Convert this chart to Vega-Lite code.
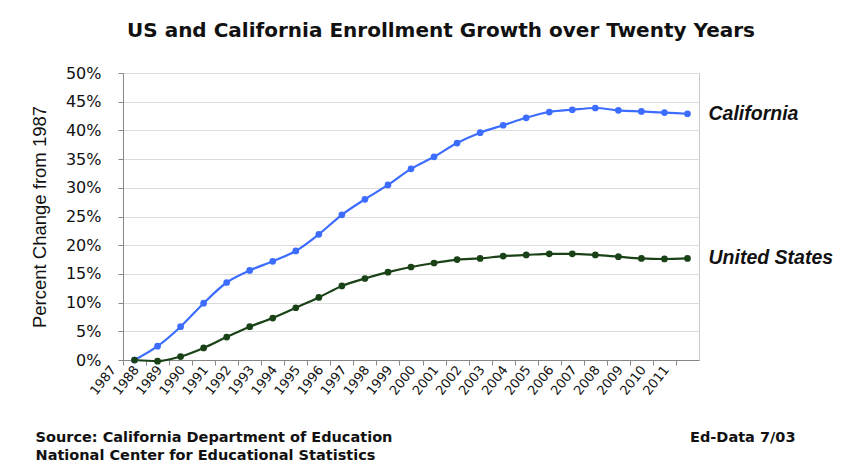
{
  "$schema": "https://vega.github.io/schema/vega-lite/v6.json",
  "width": 576,
  "height": 287,
  "autosize": {"type": "none"},
  "padding": {"left": 123, "top": 73, "right": 143, "bottom": 101},
  "background": "white",
  "title": {
    "text": "US and California Enrollment Growth over Twenty Years",
    "font": "DejaVu Sans",
    "fontSize": 20,
    "fontWeight": "bold",
    "color": "#111111",
    "anchor": "middle",
    "dx": 30,
    "offset": 24
  },
  "config": {
    "font": "DejaVu Sans",
    "view": {"stroke": "#c8c8c8", "strokeWidth": 1}
  },
  "data": {
    "values": [
      {"year": "1987", "series": "California", "value": 0.0},
      {"year": "1988", "series": "California", "value": 0.024},
      {"year": "1989", "series": "California", "value": 0.058},
      {"year": "1990", "series": "California", "value": 0.099},
      {"year": "1991", "series": "California", "value": 0.135},
      {"year": "1992", "series": "California", "value": 0.156},
      {"year": "1993", "series": "California", "value": 0.172},
      {"year": "1994", "series": "California", "value": 0.190},
      {"year": "1995", "series": "California", "value": 0.219},
      {"year": "1996", "series": "California", "value": 0.253},
      {"year": "1997", "series": "California", "value": 0.280},
      {"year": "1998", "series": "California", "value": 0.305},
      {"year": "1999", "series": "California", "value": 0.333},
      {"year": "2000", "series": "California", "value": 0.354},
      {"year": "2001", "series": "California", "value": 0.378},
      {"year": "2002", "series": "California", "value": 0.396},
      {"year": "2003", "series": "California", "value": 0.409},
      {"year": "2004", "series": "California", "value": 0.422},
      {"year": "2005", "series": "California", "value": 0.432},
      {"year": "2006", "series": "California", "value": 0.436},
      {"year": "2007", "series": "California", "value": 0.439},
      {"year": "2008", "series": "California", "value": 0.435},
      {"year": "2009", "series": "California", "value": 0.433},
      {"year": "2010", "series": "California", "value": 0.431},
      {"year": "2011", "series": "California", "value": 0.429},
      {"year": "1987", "series": "United States", "value": 0.0},
      {"year": "1988", "series": "United States", "value": -0.002},
      {"year": "1989", "series": "United States", "value": 0.006},
      {"year": "1990", "series": "United States", "value": 0.021},
      {"year": "1991", "series": "United States", "value": 0.040},
      {"year": "1992", "series": "United States", "value": 0.058},
      {"year": "1993", "series": "United States", "value": 0.073},
      {"year": "1994", "series": "United States", "value": 0.091},
      {"year": "1995", "series": "United States", "value": 0.109},
      {"year": "1996", "series": "United States", "value": 0.129},
      {"year": "1997", "series": "United States", "value": 0.142},
      {"year": "1998", "series": "United States", "value": 0.153},
      {"year": "1999", "series": "United States", "value": 0.162},
      {"year": "2000", "series": "United States", "value": 0.169},
      {"year": "2001", "series": "United States", "value": 0.175},
      {"year": "2002", "series": "United States", "value": 0.177},
      {"year": "2003", "series": "United States", "value": 0.181},
      {"year": "2004", "series": "United States", "value": 0.183},
      {"year": "2005", "series": "United States", "value": 0.185},
      {"year": "2006", "series": "United States", "value": 0.185},
      {"year": "2007", "series": "United States", "value": 0.183},
      {"year": "2008", "series": "United States", "value": 0.180},
      {"year": "2009", "series": "United States", "value": 0.177},
      {"year": "2010", "series": "United States", "value": 0.176},
      {"year": "2011", "series": "United States", "value": 0.177}
    ]
  },
  "resolve": {"axis": {"y": "independent"}},
  "layer": [
    {
      "mark": {
        "type": "line",
        "interpolate": "monotone",
        "strokeWidth": 2.2,
        "point": {"filled": true, "size": 45}
      },
      "encoding": {
        "x": {
          "field": "year",
          "type": "ordinal",
          "scale": {"type": "point", "padding": 0.5},
          "axis": {
            "labelAngle": -52,
            "labelAlign": "right",
            "labelBaseline": "middle",
            "labelOffset": -10,
            "labelPadding": 2,
            "labelFont": "DejaVu Sans",
            "labelFontSize": 13,
            "labelColor": "#111111",
            "tickOffset": -11.52,
            "tickSize": 5,
            "tickColor": "#888888",
            "domainColor": "#888888",
            "grid": false,
            "title": ["Source: California Department of Education", "National Center for Educational Statistics"],
            "titleFont": "DejaVu Sans",
            "titleFontSize": 14.5,
            "titleFontWeight": "bold",
            "titleColor": "#111111",
            "titleAnchor": "start",
            "titleAlign": "left",
            "titleBaseline": "middle",
            "titleLineHeight": 18,
            "titleX": -88,
            "titleY": 77
          }
        },
        "y": {
          "field": "value",
          "type": "quantitative",
          "scale": {"domain": [0, 0.5], "nice": false},
          "axis": {
            "values": [0, 0.05, 0.1, 0.15, 0.2, 0.25, 0.3, 0.35, 0.4, 0.45, 0.5],
            "format": ".0%",
            "labelFont": "DejaVu Sans",
            "labelFontSize": 16,
            "labelColor": "#111111",
            "labelPadding": 17,
            "tickSize": 5,
            "tickColor": "#888888",
            "domainColor": "#888888",
            "gridColor": "#dcdcdc",
            "title": "Percent Change from 1987",
            "titleFont": "Liberation Sans",
            "titleFontSize": 18.5,
            "titleFontWeight": "normal",
            "titleColor": "#111111",
            "titlePadding": 16
          }
        },
        "color": {
          "field": "series",
          "type": "nominal",
          "scale": {"domain": ["California", "United States"], "range": ["#3d6dff", "#1a4217"]},
          "legend": null
        },
        "detail": {"field": "series"}
      }
    },
    {
      "transform": [{"filter": "datum.year === '2011'"}],
      "mark": {
        "type": "text",
        "align": "left",
        "baseline": "middle",
        "dx": 21,
        "font": "Liberation Sans",
        "fontSize": 19.5,
        "fontStyle": "italic",
        "fontWeight": "bold",
        "color": "#111111"
      },
      "encoding": {
        "x": {"field": "year", "type": "ordinal"},
        "y": {
          "field": "value",
          "type": "quantitative",
          "axis": {
            "orient": "right",
            "labels": false,
            "ticks": false,
            "domain": false,
            "grid": false,
            "title": "Ed-Data 7/03",
            "titleFont": "DejaVu Sans",
            "titleAngle": 0,
            "titleAlign": "right",
            "titleBaseline": "middle",
            "titleFontSize": 14.5,
            "titleFontWeight": "bold",
            "titleColor": "#111111",
            "titleX": 96,
            "titleY": 364
          }
        },
        "text": {"field": "series"}
      }
    }
  ]
}
